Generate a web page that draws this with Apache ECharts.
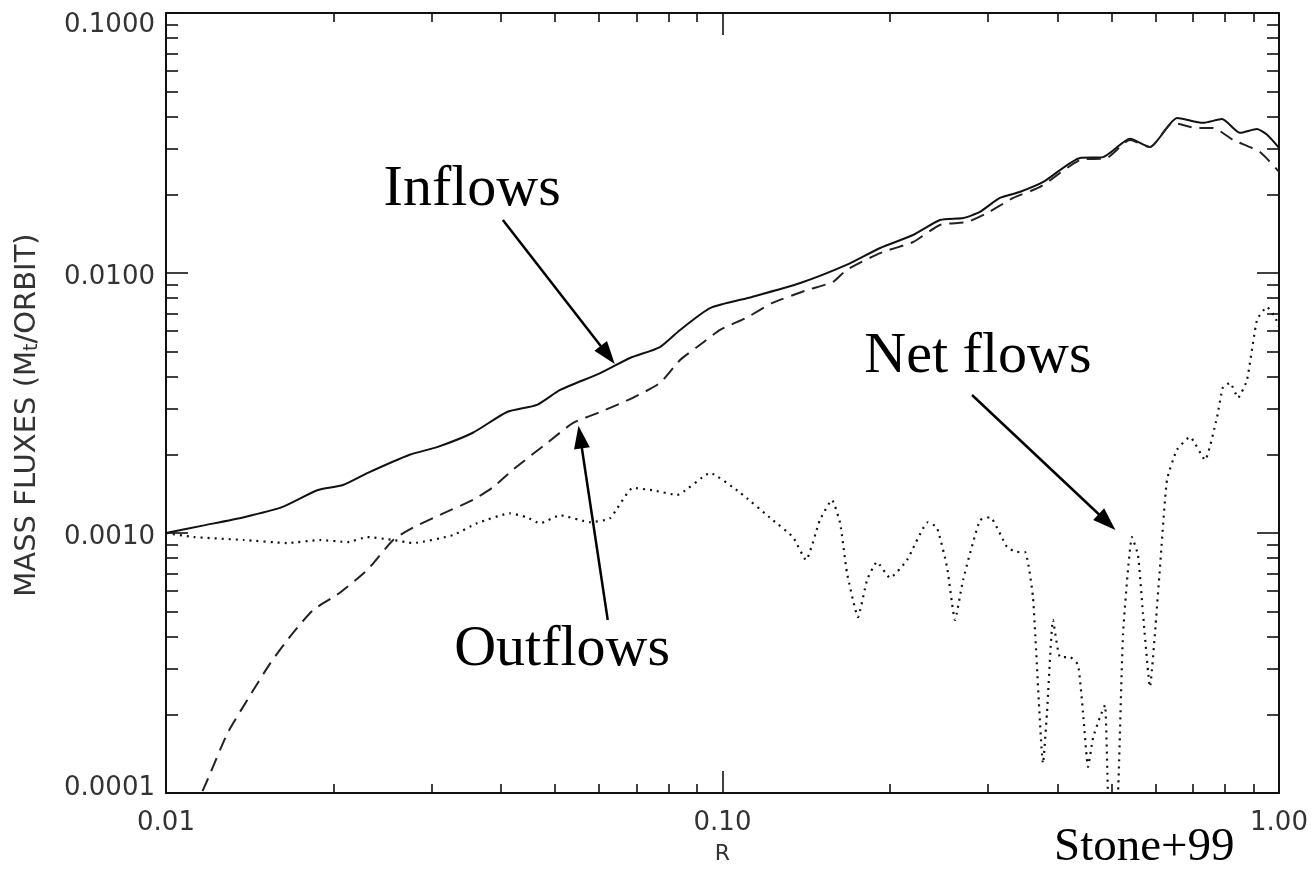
<!DOCTYPE html>
<html>
<head>
<meta charset="utf-8">
<script src="https://cdn.jsdelivr.net/npm/echarts@6/dist/echarts.min.js"></script>
<style>
  html, body { margin: 0; padding: 0; background: #fff; }
  #chart { width: 1312px; height: 870px; }
</style>
</head>
<body>
<div id="chart"></div>
<script>
// Radius R and mass fluxes (M_t / orbit)
const rInflow = [0.01, 0.0117, 0.0138, 0.0162, 0.0187, 0.0208, 0.023, 0.0274, 0.0307, 0.0356,
  0.041, 0.0464, 0.0511, 0.0603, 0.0682, 0.0772, 0.0839, 0.095, 0.113, 0.138,
  0.167, 0.192, 0.22, 0.246, 0.271, 0.29, 0.315, 0.342, 0.377, 0.439,
  0.483, 0.54, 0.586, 0.656, 0.73, 0.79, 0.851, 0.913, 0.952, 1.0];
const inflow = [0.00100, 0.00107, 0.00115, 0.00126, 0.00146, 0.00153, 0.00170, 0.00200, 0.00214, 0.00243,
  0.00292, 0.00311, 0.00355, 0.00412, 0.00471, 0.00519, 0.00604, 0.00733, 0.00809, 0.00915,
  0.01074, 0.01248, 0.01400, 0.01600, 0.01628, 0.01717, 0.01944, 0.0205, 0.0224, 0.0277,
  0.0279, 0.0328, 0.0305, 0.0395, 0.0378, 0.0391, 0.0346, 0.0358, 0.0340, 0.0303];

const rOutflow = [0.01, 0.0118, 0.0129, 0.014, 0.0154, 0.0169, 0.0184, 0.0205, 0.023, 0.0256,
  0.0278, 0.0315, 0.0356, 0.0387, 0.042, 0.0484, 0.0539, 0.0603, 0.069, 0.0772,
  0.0839, 0.09, 0.099, 0.111, 0.123, 0.142, 0.158, 0.167, 0.192, 0.22,
  0.246, 0.275, 0.299, 0.333, 0.372, 0.439, 0.491, 0.54, 0.586, 0.645,
  0.712, 0.761, 0.827, 0.924, 1.0];
const outflow = [0.00005, 0.000109, 0.00017, 0.000228, 0.000316, 0.000412, 0.000506, 0.000588, 0.000721, 0.00094,
  0.00105, 0.00119, 0.00134, 0.0015, 0.00175, 0.00222, 0.00265, 0.00292, 0.00331, 0.00378,
  0.00463, 0.00519, 0.00604, 0.00677, 0.00767, 0.0086, 0.00924, 0.01027, 0.01193, 0.01316,
  0.0153, 0.01571, 0.01701, 0.01944, 0.02142, 0.0272, 0.0277, 0.0325, 0.0305, 0.0378,
  0.0361, 0.0361, 0.0325, 0.0292, 0.0245];

const rNet = [0.01, 0.0112, 0.0138, 0.0165, 0.0189, 0.0212, 0.023, 0.0256, 0.0278, 0.0328,
  0.0362, 0.0415, 0.0445, 0.047, 0.0511, 0.0578, 0.0628, 0.069, 0.075, 0.0828,
  0.095, 0.1075, 0.1232, 0.1338, 0.1413, 0.1496, 0.1573, 0.1627, 0.1674, 0.1752,
  0.1819, 0.1895, 0.2, 0.2146, 0.234, 0.2428, 0.2532, 0.2617, 0.2706, 0.2901,
  0.3025, 0.3245, 0.3382, 0.3497, 0.3613, 0.3767, 0.3829, 0.3926, 0.4042, 0.4212,
  0.4354, 0.4445, 0.4538, 0.4633, 0.4768, 0.4868, 0.4928, 0.5012, 0.5137, 0.5245,
  0.5443, 0.558, 0.5696, 0.5864, 0.5986, 0.6112, 0.6291, 0.6557, 0.6918, 0.7362,
  0.7738, 0.7931, 0.8166, 0.844, 0.876, 0.9131, 0.9515, 0.9836, 1.0];
const netFlow = [0.001, 0.000965, 0.00094, 0.000915, 0.00094, 0.000923, 0.000965, 0.00094, 0.000915, 0.000982,
  0.00109, 0.00119, 0.00115, 0.00109, 0.00117, 0.0011, 0.00114, 0.00149, 0.00146, 0.0014,
  0.0017, 0.00143, 0.00112, 0.000965, 0.000787, 0.00112, 0.00134, 0.00109, 0.000702, 0.000475,
  0.00066, 0.000774, 0.000672, 0.000787, 0.0011, 0.00105, 0.00074, 0.000463, 0.00066, 0.00112,
  0.00115, 0.000884, 0.000845, 0.000845, 0.000568, 0.00013, 0.000203, 0.000463, 0.000333, 0.000333,
  0.000311, 0.000203, 0.000126, 0.000163, 0.000196, 0.000218, 0.0001, 0.00006, 0.0001, 0.000409,
  0.000965, 0.000823, 0.000492, 0.000256, 0.000412, 0.00074, 0.0016, 0.00209, 0.00234, 0.00191,
  0.00279, 0.00364, 0.00378, 0.00331, 0.00388, 0.0066, 0.0074, 0.00677, 0.0062];

// Axis ticks
const xMajorTicks = [0.01, 0.1, 1];
const xMinorTicks = [0.02, 0.03, 0.04, 0.05, 0.06, 0.07, 0.08, 0.09,
  0.2, 0.3, 0.4, 0.5, 0.6, 0.7, 0.8, 0.9];
const yMajorTicks = [0.0001, 0.001, 0.01, 0.1];
const yMinorTicks = [0.0002, 0.0003, 0.0004, 0.0005, 0.0006, 0.0007, 0.0008, 0.0009,
  0.002, 0.003, 0.004, 0.005, 0.006, 0.007, 0.008, 0.009,
  0.02, 0.03, 0.04, 0.05, 0.06, 0.07, 0.08, 0.09];

// Annotation labels (anchored in data space) and their arrows
const noteText = ['Inflows', 'Outflows', 'Net flows'];
const noteR = [0.0355, 0.0515, 0.2877];
const noteV = [0.02085, 0.000355, 0.00475];
const arrowFromR = [0.0403, 0.0622, 0.2808];
const arrowFromV = [0.0160, 0.000463, 0.003395];
const arrowToR = [0.0622, 0.0555, 0.4909];
const arrowToV = [0.00484, 0.00234, 0.001102];

const INK = '#111';
const TICK_FONT = '"DejaVu Sans", sans-serif';
const SERIF = '"Liberation Serif", "Times New Roman", serif';
// filled arrow head, tip pointing up in its own frame
const ARROW_HEAD = 'path://M8,0L16,23L0,23Z';

const pairs = (xs, ys) => xs.map((x, i) => [x, ys[i]]);

function xAxis(position, ticks, len, main) {
  return {
    type: 'log', logBase: 10, min: 0.01, max: 1, position: position,
    name: main && position === 'bottom' ? 'R' : '',
    nameLocation: 'middle', nameGap: 50,
    nameTextStyle: { fontFamily: TICK_FONT, fontSize: 22, color: '#333' },
    axisLine: { show: main, onZero: false, lineStyle: { color: INK, width: 2 } },
    axisTick: { show: true, inside: true, length: len, customValues: ticks,
      lineStyle: { color: INK, width: 1.6 } },
    axisLabel: (main && position === 'bottom') ? {
      show: true, customValues: xMajorTicks, margin: 17,
      fontFamily: TICK_FONT, fontSize: 26, color: '#333',
      formatter: v => Number(v).toFixed(2)
    } : { show: false },
    splitLine: { show: false }, minorTick: { show: false }, minorSplitLine: { show: false }
  };
}

function yAxis(position, ticks, len, main) {
  return {
    type: 'log', logBase: 10, min: 0.0001, max: 0.1, position: position,
    name: main && position === 'left' ? 'MASS FLUXES (M{s|t}/ORBIT)' : '',
    nameLocation: 'middle', nameGap: 124, nameRotate: 90,
    nameTextStyle: { fontFamily: TICK_FONT, fontSize: 29, color: '#333', padding: [0, 24, 0, 0],
      rich: { s: { fontFamily: TICK_FONT, fontSize: 19, color: '#333', verticalAlign: 'bottom', padding: [10, 0, 0, 0] } } },
    axisLine: { show: main, onZero: false, lineStyle: { color: INK, width: 2 } },
    axisTick: { show: true, inside: true, length: len, customValues: ticks,
      lineStyle: { color: INK, width: 1.6 } },
    axisLabel: (main && position === 'left') ? {
      show: true, customValues: yMajorTicks, margin: 11,
      fontFamily: TICK_FONT, fontSize: 26, color: '#333',
      formatter: v => {
        const s = Number(v).toFixed(4);
        if (v > 0.05) return '{top|' + s + '}';
        if (v < 0.0002) return '{bot|' + s + '}';
        return '{mid|' + s + '}';
      },
      rich: {
        top: { fontFamily: TICK_FONT, fontSize: 26, color: '#333', padding: [24, 0, 0, 0] },
        mid: { fontFamily: TICK_FONT, fontSize: 26, color: '#333', padding: [8, 0, 0, 0] },
        bot: { fontFamily: TICK_FONT, fontSize: 26, color: '#333', padding: [0, 0, 10, 0] }
      }
    } : { show: false },
    splitLine: { show: false }, minorTick: { show: false }, minorSplitLine: { show: false }
  };
}

const chart = echarts.init(document.getElementById('chart'), null, { renderer: 'canvas' });

chart.setOption({
  animation: false,
  backgroundColor: '#fff',
  grid: { left: 166, top: 13, right: 33, bottom: 77, containLabel: false },
  xAxis: [
    xAxis('bottom', xMajorTicks, 22, true),
    xAxis('bottom', xMinorTicks, 9, false),
    xAxis('top', xMajorTicks, 22, true),
    xAxis('top', xMinorTicks, 9, false)
  ],
  yAxis: [
    yAxis('left', yMajorTicks, 22, true),
    yAxis('left', yMinorTicks, 12, false),
    yAxis('right', yMajorTicks, 22, true),
    yAxis('right', yMinorTicks, 12, false)
  ],
  series: [
    {
      name: 'Inflows', type: 'line', xAxisIndex: 0, yAxisIndex: 0,
      data: pairs(rInflow, inflow), symbol: 'none', smooth: 0.2, clip: true, silent: true,
      lineStyle: { color: INK, width: 2, type: 'solid' },
      markLine: {
        silent: true, animation: false,
        symbol: ['none', ARROW_HEAD], symbolSize: 23, symbolKeepAspect: true,
        label: { show: false },
        itemStyle: { color: '#000' },
        lineStyle: { color: '#000', width: 2.5, type: 'solid' },
        data: arrowFromR.map((r, i) => [
          { coord: [r, arrowFromV[i]] },
          { coord: [arrowToR[i], arrowToV[i]] }
        ])
      },
      markPoint: {
        silent: true, animation: false,
        symbol: 'circle', symbolSize: 1, itemStyle: { color: 'rgba(0,0,0,0)' },
        label: { show: true, position: 'inside', formatter: p => p.name,
          fontFamily: SERIF, fontSize: 58, color: '#000' },
        data: noteText.map((t, i) => ({ name: t, coord: [noteR[i], noteV[i]] }))
      }
    },
    {
      name: 'Outflows', type: 'line', xAxisIndex: 0, yAxisIndex: 0,
      data: pairs(rOutflow, outflow), symbol: 'none', smooth: 0.2, clip: true, silent: true,
      lineStyle: { color: '#222', width: 2, type: [14, 8] }
    },
    {
      name: 'Net flows', type: 'line', xAxisIndex: 0, yAxisIndex: 0,
      data: pairs(rNet, netFlow), symbol: 'none', smooth: 0.15, clip: true, silent: true,
      lineStyle: { color: '#111', width: 2.2, type: [2, 5] }
    }
  ],
  graphic: [
    {
      type: 'text', left: 1054, top: 824, silent: true,
      style: { text: 'Stone+99', font: '47px ' + SERIF, fill: '#000' }
    }
  ]
});
</script>
</body>
</html>
